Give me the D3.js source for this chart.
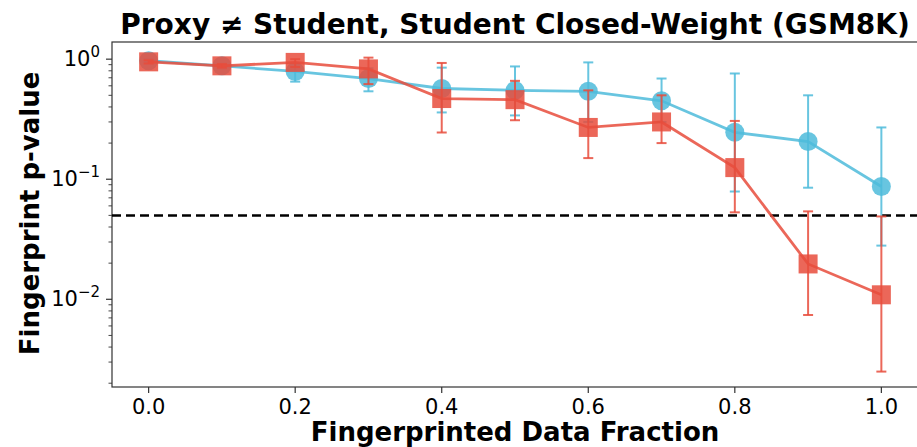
<!DOCTYPE html>
<html>
<head>
<meta charset="utf-8">
<script src="https://cdn.jsdelivr.net/npm/d3@7"></script>
<style>
  body { margin: 0; background: #fff; }
  svg { display: block; }
</style>
</head>
<body>
<div id="chart"></div>
<script>
/* ── Data ─────────────────────────────────────────────────────────── */
const fractions = [0.0, 0.1, 0.2, 0.3, 0.4, 0.5, 0.6, 0.7, 0.8, 0.9, 1.0];

// proxy (blue circles)
const blueVals = [0.97, 0.88, 0.79, 0.69, 0.57, 0.55, 0.54, 0.45, 0.246, 0.206, 0.087];
const blueLo   = [0.94, 0.84, 0.65, 0.54, 0.36, 0.34, 0.30, 0.30, 0.079, 0.085, 0.028];
const blueHi   = [1.00, 0.92, 0.92, 0.84, 0.85, 0.87, 0.94, 0.69, 0.76, 0.50, 0.27];

// student (red squares)
const redVals = [0.95, 0.88, 0.94, 0.83, 0.47, 0.46, 0.27, 0.30, 0.125, 0.0197, 0.0109];
const redLo   = [0.92, 0.85, 0.86, 0.62, 0.245, 0.31, 0.15, 0.20, 0.053, 0.0074, 0.0025];
const redHi   = [0.98, 0.91, 1.00, 1.03, 0.93, 0.66, 0.55, 0.50, 0.306, 0.054, 0.049];

const threshold = 0.05;
const xTicks = [0.0, 0.2, 0.4, 0.6, 0.8, 1.0];
const yTickExps = [0, -1, -2];

/* ── Layout ───────────────────────────────────────────────────────── */
const W = 917, H = 447;
const M = { top: 42, right: -1, bottom: 60, left: 112 };
const pw = W - M.left - M.right, ph = H - M.top - M.bottom;
const FONT = '"DejaVu Sans", sans-serif';

const COLORS = {
  blue: 'rgba(78,187,218,0.85)',
  red: 'rgba(231,76,60,0.85)',
  text: '#000'
};

const svg = d3.select('#chart').append('svg')
  .attr('width', W).attr('height', H);

const x = d3.scaleLinear().domain([-0.05, 1.05]).range([0, pw]);
const y = d3.scaleLog().domain([0.00186, 1.39]).range([ph, 0]);

const g = svg.append('g').attr('transform', 'translate(' + M.left + ',' + M.top + ')');

// spines
g.append('rect').attr('x', 0).attr('y', 0).attr('width', pw).attr('height', ph)
  .attr('fill', 'none').attr('stroke', '#333').attr('stroke-width', 1.2);

// x ticks
const xAxis = g.append('g');
xTicks.forEach(function (t) {
  xAxis.append('line').attr('x1', x(t)).attr('x2', x(t)).attr('y1', ph).attr('y2', ph + 6)
    .attr('stroke', '#333').attr('stroke-width', 1.2);
  xAxis.append('text').attr('x', x(t)).attr('y', ph + 27)
    .attr('text-anchor', 'middle')
    .style('font-family', FONT).style('font-size', '21px')
    .text(d3.format('.1f')(t));
});

// y ticks (major + minor)
const yAxis = g.append('g');
for (let e = -3; e <= 0; e++) {
  for (let m = 1; m <= 9; m++) {
    const v = m * Math.pow(10, e);
    if (v < y.domain()[0] || v > y.domain()[1]) continue;
    const major = m === 1;
    yAxis.append('line').attr('x1', 0).attr('x2', major ? -6 : -3.5)
      .attr('y1', y(v)).attr('y2', y(v))
      .attr('stroke', '#333').attr('stroke-width', major ? 1.2 : 0.9);
  }
}
yTickExps.forEach(function (e) {
  const t = yAxis.append('text').attr('x', -12).attr('y', y(Math.pow(10, e)) + 7)
    .attr('text-anchor', 'end')
    .style('font-family', FONT).style('font-size', '21px');
  t.append('tspan').text('10');
  t.append('tspan').attr('dy', -9).style('font-size', '15px').text(e === 0 ? '0' : '\u2212' + (-e));
});

// threshold line
g.append('line').attr('x1', 0).attr('x2', pw).attr('y1', y(threshold)).attr('y2', y(threshold))
  .attr('stroke', '#000').attr('stroke-width', 2.5).attr('stroke-dasharray', '9,5');

/* ── Series ───────────────────────────────────────────────────────── */
function drawSeries(vals, lo, hi, color, shape) {
  const s = g.append('g');
  const pts = fractions.map(function (f, i) { return { x: f, v: vals[i], lo: lo[i], hi: hi[i] }; });
  pts.forEach(function (d) {
    s.append('line').attr('x1', x(d.x)).attr('x2', x(d.x)).attr('y1', y(d.lo)).attr('y2', y(d.hi))
      .attr('stroke', color).attr('stroke-width', 2);
    [d.lo, d.hi].forEach(function (c) {
      s.append('line').attr('x1', x(d.x) - 5).attr('x2', x(d.x) + 5).attr('y1', y(c)).attr('y2', y(c))
        .attr('stroke', color).attr('stroke-width', 2);
    });
  });
  s.append('path').datum(pts)
    .attr('fill', 'none').attr('stroke', color).attr('stroke-width', 2.8)
    .attr('d', d3.line().x(function (d) { return x(d.x); }).y(function (d) { return y(d.v); }));
  pts.forEach(function (d) {
    if (shape === 'circle') {
      s.append('circle').attr('cx', x(d.x)).attr('cy', y(d.v)).attr('r', 9.5).attr('fill', color);
    } else {
      s.append('rect').attr('x', x(d.x) - 9.5).attr('y', y(d.v) - 9.5)
        .attr('width', 19).attr('height', 19).attr('fill', color);
    }
  });
}

drawSeries(blueVals, blueLo, blueHi, COLORS.blue, 'circle');
drawSeries(redVals, redLo, redHi, COLORS.red, 'square');

/* ── Labels ───────────────────────────────────────────────────────── */
svg.append('text').attr('x', M.left + pw / 2).attr('y', 34)
  .attr('text-anchor', 'middle')
  .style('font-family', FONT).style('font-weight', 'bold')
  .style('font-size', '28px')
  .text('Proxy \u2260 Student, Student Closed-Weight (GSM8K)');

svg.append('text').attr('x', M.left + pw / 2).attr('y', 441)
  .attr('text-anchor', 'middle')
  .style('font-family', FONT).style('font-weight', 'bold').style('font-size', '26px')
  .text('Fingerprinted Data Fraction');

svg.append('text')
  .attr('transform', 'translate(39,' + (M.top + y(0.05) - 2) + ') rotate(-90)')
  .attr('text-anchor', 'middle')
  .style('font-family', FONT).style('font-weight', 'bold')
  .style('font-size', '26px')
  .text('Fingerprint p-value');
</script>
</body>
</html>
